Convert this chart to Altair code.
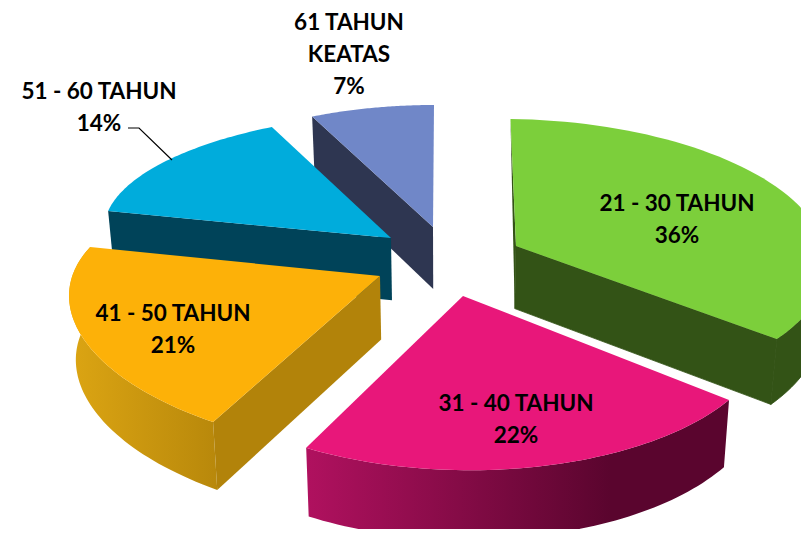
import math
import altair as alt

groups = ["21 - 30 TAHUN", "31 - 40 TAHUN", "41 - 50 TAHUN", "51 - 60 TAHUN", "61 TAHUN KEATAS"]
shares = [36, 22, 21, 14, 7]
label_lines = [["21 - 30 TAHUN", "36%"], ["31 - 40 TAHUN", "22%"], ["41 - 50 TAHUN", "21%"],
               ["51 - 60 TAHUN", "14%"], ["61 TAHUN", "KEATAS", "7%"]]
label_xy = [(677, 203.5), (516, 403.5), (173, 313.5), (99, 91.5), (349, 22.5)]

top_colors = ["#7CCF3B", "#E8177A", "#FDB108", "#00ACDC", "#7087C8"]
wall_colors = ["#335316", "#5A052E", "#B2830A", "#004359", "#2E3651"]
rim_gradients = {
    1: ["#B0115F", "#5A052E"],
    2: ["#DCA513", "#B8880B"],
}

# perspective view of each exploded wedge: apex x, apex y, A, B, k, shear, rim flattening
views = [
    (516, 246, 315, 138, 0.086, -6, 0.025),
    (463, 296, 288, 141, 0.2125, -12.7, 0.03),
    (380, 276, 313, 124.8, 0.287, -29.5, 0.03),
    (391, 238, 285.6, 103.8, -0.17, 23, 0.0),
    (433, 227, 286, 122, 0.0, 1, 0.0),
]
VANISH_X = 445
DEPTH_SCALE = 0.982


def rim(i, deg, t=0.0):
    ax, ay, A, B, k, s, d = views[i]
    a = math.radians(deg)
    u, v = math.sin(a), math.cos(a)
    w = 1 + k * v
    r = 1 - d * math.sin(math.pi * t)
    return (ax + r * (A * u + s * v) / w, ay - r * B * v / w)


def lower(p):
    x, y = p
    return (VANISH_X + (x - VANISH_X) * DEPTH_SCALE, y + 62 + (y - 227) * 0.03)


def poly(points):
    ring = [list(p) for p in points] + [list(points[0])]
    return {"type": "Feature", "properties": {}, "geometry": {"type": "Polygon", "coordinates": [ring]}}


proj = alt.Projection(type="identity", scale=1, translate=[-8, -8])


def shape(feature, fill, seam=False):
    kw = {"stroke": fill, "strokeWidth": 0.8} if seam else {"strokeWidth": 0}
    return alt.Chart(alt.Data(values=[feature])).mark_geoshape(fill=fill, **kw).project(**proj.to_dict())


bounds = []
c = 0
for s in shares:
    bounds.append((c * 3.6, (c + s) * 3.6))
    c += s

layers = []
for i in [4, 3, 2, 0, 1]:
    a, b = bounds[i]
    apex = (views[i][0], views[i][1])
    arc = [rim(i, a + (b - a) * n / 60, n / 60) for n in range(61)]
    if i == 0:
        layers.append(shape(poly([arc[0], apex, lower(apex)]), wall_colors[i]))
        wall_degs = [b - (b - 85) * n / 30 for n in range(31)]
        wall_arc = [rim(i, d, (d - a) / (b - a)) for d in wall_degs]
        layers.append(shape(poly(wall_arc + [lower(p) for p in reversed(wall_arc)]), wall_colors[i], seam=True))
        layers.append(shape(poly([apex, arc[-1], lower(arc[-1]), lower(apex)]), wall_colors[i], seam=True))
    elif i == 1:
        g = rim_gradients[1]
        layers.append(shape(poly(arc + [lower(p) for p in reversed(arc)]), {
            "gradient": "linear", "x1": 0, "x2": 1, "y1": 0, "y2": 0,
            "stops": [{"offset": 0, "color": g[0]}, {"offset": 0.72, "color": g[1]}, {"offset": 1, "color": g[1]}]}))
    elif i == 2:
        g = rim_gradients[2]
        layers.append(shape(poly(arc + [lower(p) for p in reversed(arc)]), {
            "gradient": "linear", "x1": 1, "x2": 0, "y1": 0, "y2": 0,
            "stops": [{"offset": 0, "color": g[1]}, {"offset": 1, "color": g[0]}]}))
        layers.append(shape(poly([apex, arc[0], lower(arc[0]), lower(apex)]), wall_colors[i]))
    else:
        layers.append(shape(poly([apex, arc[0], lower(arc[0]), lower(apex)]), wall_colors[i]))
    layers.append(shape(poly([apex] + arc), top_colors[i]))

leader = {"type": "Feature", "properties": {},
          "geometry": {"type": "LineString", "coordinates": [[128, 128], [139, 128], [172, 160]]}}
layers.append(alt.Chart(alt.Data(values=[leader])).mark_geoshape(filled=False, stroke="#000000", strokeWidth=1.2)
              .project(**proj.to_dict()))

rows = []
for lines, (x, y) in zip(label_lines, label_xy):
    for n, line in enumerate(lines):
        rows.append({"lon": x, "lat": y + 32 * n, "text": line})
text = alt.Chart(alt.Data(values=rows)).mark_text(
    font="Lato", fontWeight="bold", fontSize=22.5, color="#000000", align="center", baseline="middle"
).encode(longitude="lon:Q", latitude="lat:Q", text="text:N").project(**proj.to_dict())
layers.append(text)

chart = alt.layer(*layers).properties(width=793, height=521, padding=0).configure_view(stroke=None)
chart.save("out.html", embed_options={"renderer": "svg", "actions": False})
